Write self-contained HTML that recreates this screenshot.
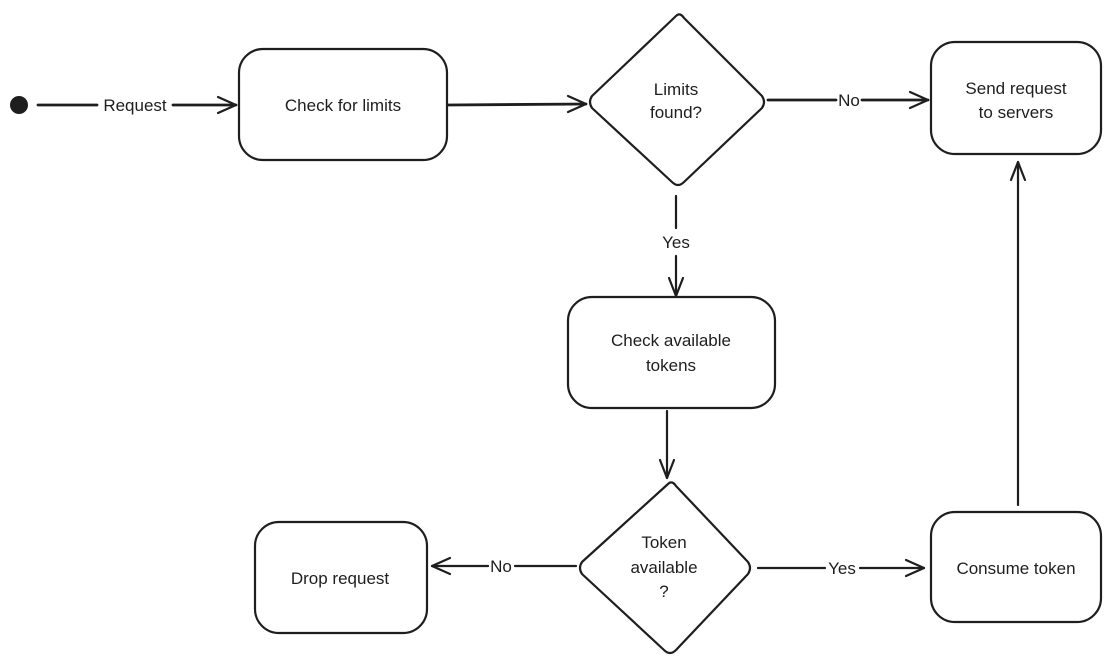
<!DOCTYPE html>
<html><head><meta charset="utf-8"><style>
html,body{margin:0;padding:0;background:#fff;}
svg{display:block;}
text{font-family:"Liberation Sans",sans-serif;font-size:17px;fill:#1e1e1e;text-anchor:middle;}
</style></head><body>
<svg width="1111" height="670" viewBox="0 0 1111 670" xmlns="http://www.w3.org/2000/svg">
<g fill="none" stroke="#1e1e1e" stroke-width="2.2" stroke-linecap="round" stroke-linejoin="round">
<rect x="239" y="49" width="208" height="111" rx="24"/>
<rect x="931" y="42" width="170" height="112" rx="24"/>
<rect x="568" y="297" width="207" height="111" rx="24"/>
<rect x="255" y="522" width="172" height="111" rx="24"/>
<rect x="931" y="512" width="170" height="110" rx="24"/>
<path d="M676 16 Q680 12 684 18 L762 96 Q766 102 762 108 L684 182 Q678 188 672 182 L592 108 Q588 102 592 96 Z"/>
<path d="M668 484 Q672 480 676 486 L748 562 Q752 568 748 574 L676 650 Q670 656 664 650 L582 574 Q578 568 582 562 Z"/>
<path d="M38 105 H97 M173 105 H236" stroke-width="2.8"/>
<path d="M218 97 L236 105 L218 113"/>
<path d="M448 105 L586 104" stroke-width="2.8"/>
<path d="M568 96 L586 104 L568 112"/>
<path d="M768 100 H836 M862 100 H928" stroke-width="2.8"/>
<path d="M910 92 L928 100 L910 108"/>
<path d="M676 196 V228 M676 256 V296"/>
<path d="M669 278 L676 296 L683 278"/>
<path d="M667 411 V478"/>
<path d="M660 460 L667 478 L674 460"/>
<path d="M576 566 H515 M488 566 H432"/>
<path d="M450 558 L432 566 L450 574"/>
<path d="M758 568 H825 M860 568 H924"/>
<path d="M906 560 L924 568 L906 576"/>
<path d="M1018 505 V162"/>
<path d="M1011 180 L1018 162 L1025 180"/>
</g>
<circle cx="19" cy="105" r="9" fill="#1e1e1e"/>
<text x="135" y="111">Request</text>
<text x="343" y="111">Check for limits</text>
<text x="676" y="95">Limits</text>
<text x="676" y="118">found?</text>
<text x="849" y="106">No</text>
<text x="1016" y="94">Send request</text>
<text x="1016" y="118">to servers</text>
<text x="676" y="248">Yes</text>
<text x="671" y="346">Check available</text>
<text x="671" y="371">tokens</text>
<text x="664" y="548">Token</text>
<text x="664" y="573">available</text>
<text x="664" y="597">?</text>
<text x="501" y="572">No</text>
<text x="340" y="584">Drop request</text>
<text x="842" y="574">Yes</text>
<text x="1016" y="574">Consume token</text>
</svg>
</body></html>
